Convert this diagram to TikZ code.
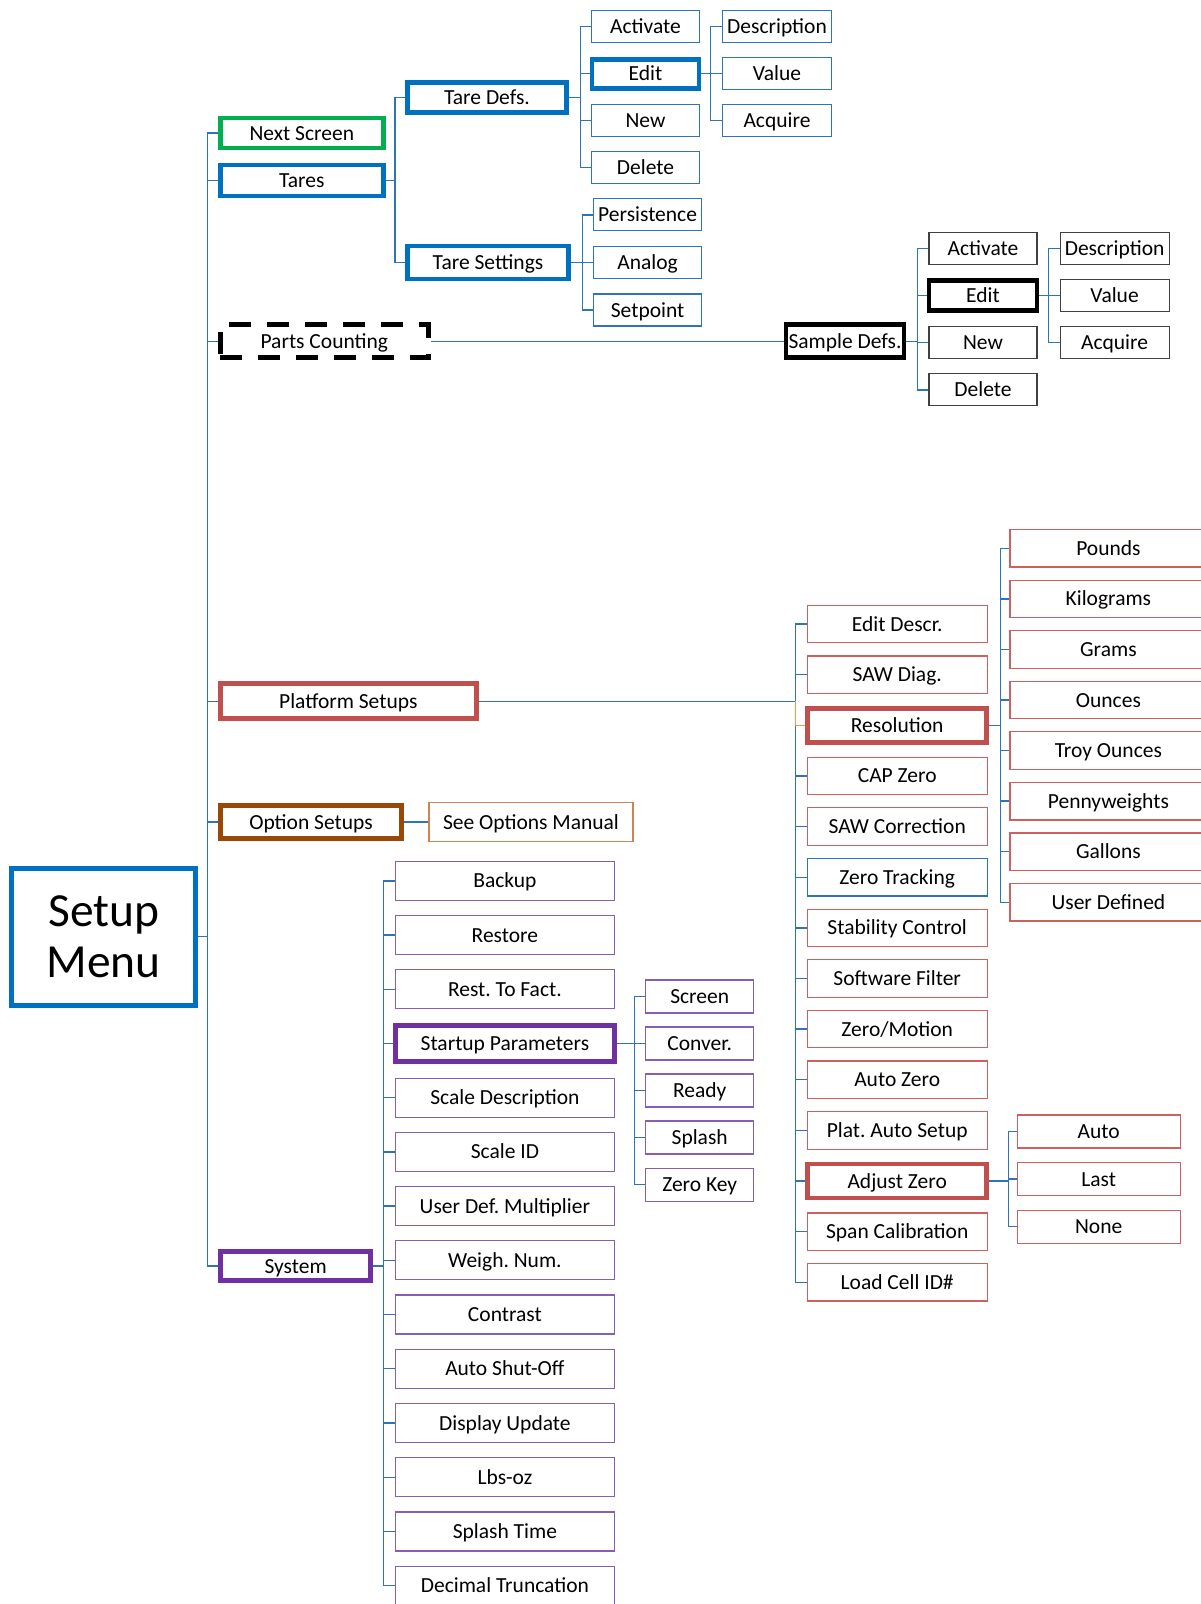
\documentclass[tikz,border=0pt]{standalone}
\usepackage{fontspec}
\setmainfont{Carlito}
\usetikzlibrary{positioning}
\definecolor{tblue}{RGB}{0,112,192}
\definecolor{lblue}{RGB}{46,117,182}
\definecolor{tgreen}{RGB}{0,176,80}
\definecolor{tred}{RGB}{192,80,77}
\definecolor{lred}{RGB}{208,96,96}
\definecolor{tbrown}{RGB}{152,72,7}
\definecolor{lbrown}{RGB}{204,132,84}
\definecolor{tpurple}{RGB}{112,48,160}
\definecolor{lpurple}{RGB}{134,94,180}
\definecolor{lorange}{RGB}{247,150,70}
\definecolor{kgray}{RGB}{64,64,64}
\newcommand*{\Fork}[4]{\foreach \k in {#4} \draw[link] (#1.east) -- ++(#2,0) |- (#3\k.west);}

\begin{document}
\frenchspacing
\begin{tikzpicture}[x=1pt,y=-1pt,
		cell/.style={inner sep=0pt,font=\fontsize{21.5}{25}\selectfont,text height=17pt,text depth=3pt},
		thin/.style={cell,draw=#1,line width=1.2pt},
		heavy/.style={cell,draw=#1,line width=4.8pt},
		bthin/.style={thin=lblue},
		rthin/.style={thin=lred},
		pthin/.style={thin=lpurple},
		kthin/.style={thin=kgray},
		bedit/.style={heavy=tblue,minimum width=107,minimum height=29},
		kedit/.style={heavy=black,minimum width=108,minimum height=30},
		rheavy/.style={heavy=tred,minimum width=179,minimum height=34},
		pheavy/.style={heavy=tpurple,minimum width=219,minimum height=36},
		link/.style={draw=lblue,line width=1.4pt}]
	\useasboundingbox (0,0) rectangle (1201,1604);
	\clip (0,0) rectangle (1201,1604);
	\node[draw=tblue,line width=5pt,minimum width=184,minimum height=137,align=center,font=\fontsize{47.5}{51}\selectfont] (menu) at (103.8,936.6) {Setup\\Menu};
	\node[heavy=tgreen,minimum width=163,minimum height=30] (next) at (301.8,133) {Next Screen};
	\node[heavy=tblue,minimum width=163,minimum height=31] (tares) at (301.8,180.5) {Tares};
	\node[heavy=tblue,minimum width=159,minimum height=30] (tdefs) at (487,97.2) {Tare Defs.};
	\node[heavy=tblue,minimum width=161,minimum height=33] (tset) at (488,262.4) {Tare Settings};
	\node[heavy=black,dash pattern=on 22pt off 16pt,minimum width=208,minimum height=33] (pc) at (324.3,341.2) {Parts Counting};
	\node[heavy=black,minimum width=118,minimum height=33] (sdefs) at (845,341.2) {Sample Defs.};
	\node[heavy=tred,minimum width=256,minimum height=35] (plat) at (348.3,701.3) {Platform Setups};
	\node[heavy=tbrown,minimum width=181,minimum height=33] (opt) at (311,822) {Option Setups};
	\node[thin=lbrown,minimum width=204,minimum height=39] (seeopt) at (531,822) {See Options Manual};
	\node[heavy=tpurple,minimum width=150,minimum height=29] (sys) at (295.6,1266) {System};

	\foreach \t/\s [count=\i] in {Activate/bthin,Edit/bedit,New/bthin,Delete/bthin}
		\node[minimum width=108,minimum height=32,\s] (td\i) at (645.5,{26.6+47*(\i-1)}) {\t};
	\foreach \t [count=\i] in {Description,Value,Acquire}
		\node[bthin,minimum width=109,minimum height=32] (tv\i) at (777,{26.6+47*(\i-1)}) {\t};
	\foreach \t [count=\i] in {Persistence,Analog,Setpoint}
		\node[bthin,minimum width=108,minimum height=32] (ts\i) at (647.6,{214.8+47.6*(\i-1)}) {\t};
	\foreach \t/\s [count=\i] in {Activate/kthin,Edit/kedit,New/kthin,Delete/kthin}
		\node[minimum width=108,minimum height=32,\s] (sd\i) at (983,{248.6+47.07*(\i-1)}) {\t};
	\foreach \t [count=\i] in {Description,Value,Acquire}
		\node[kthin,minimum width=109,minimum height=32] (sv\i) at (1114.6,{248.6+47.07*(\i-1)}) {\t};
	\foreach \t/\s [count=\i] in {Edit Descr./rthin,SAW Diag./rthin,Resolution/rheavy,CAP Zero/rthin,SAW Correction/rthin,Zero Tracking/bthin,Stability Control/rthin,Software Filter/rthin,{Zero/Motion}/rthin,Auto Zero/rthin,Plat. Auto Setup/rthin,Adjust Zero/rheavy,Span Calibration/rthin,Load Cell ID\#/rthin}
		\node[minimum width=180,minimum height=37.5,\s] (pl\i) at (897.2,{624+50.64*(\i-1)}) {\t};
	\foreach \t [count=\i] in {Pounds,Kilograms,Grams,Ounces,Troy Ounces,Pennyweights,Gallons,User Defined}
		\node[rthin,minimum width=197,minimum height=37.5] (u\i) at (1108.4,{548.3+50.57*(\i-1)}) {\t};
	\foreach \t [count=\i] in {Auto,Last,None}
		\node[rthin,minimum width=163,minimum height=33] (az\i) at (1098.7,{1131.4+47.6*(\i-1)}) {\t};
	\foreach \t/\s [count=\i] in {Backup/pthin,Restore/pthin,Rest. To Fact./pthin,Startup Parameters/pheavy,Scale Description/pthin,Scale ID/pthin,User Def. Multiplier/pthin,Weigh. Num./pthin,Contrast/pthin,Auto Shut-Off/pthin,Display Update/pthin,Lbs-oz/pthin,Splash Time/pthin,Decimal Truncation/pthin}
		\node[minimum width=219,minimum height=39,\s] (s\i) at (504.9,{880.8+54.22*(\i-1)}) {\t};
	\foreach \t [count=\i] in {Screen,Conver.,Ready,Splash,Zero Key}
		\node[pthin,minimum width=108,minimum height=33] (st\i) at (699.7,{996.4+47.05*(\i-1)}) {\t};

	\Fork{menu}{9.2}{}{next,tares,pc,plat,opt,sys}
	\Fork{tares}{9.2}{}{tdefs,tset}
	\Fork{tdefs}{11.3}{td}{1,...,4}
	\Fork{td2}{9.2}{tv}{1,2,3}
	\Fork{tset}{11.3}{ts}{1,2,3}
	\draw[link] (pc.east) -- (sdefs.west);
	\Fork{sdefs}{11.3}{sd}{1,...,4}
	\Fork{sd2}{9.2}{sv}{1,2,3}
	\Fork{plat}{317}{pl}{1,...,14}
	\draw[link,draw=lorange] (plat.east) ++(317,0) |- (pl3.west);
	\Fork{pl3}{11.3}{u}{1,...,8}
	\Fork{pl12}{19.4}{az}{1,2,3}
	\draw[link] (opt.east) -- (seeopt.west);
	\Fork{sys}{10.2}{s}{1,...,14}
	\Fork{s4}{17.4}{st}{1,...,5}
\end{tikzpicture}
\end{document}
